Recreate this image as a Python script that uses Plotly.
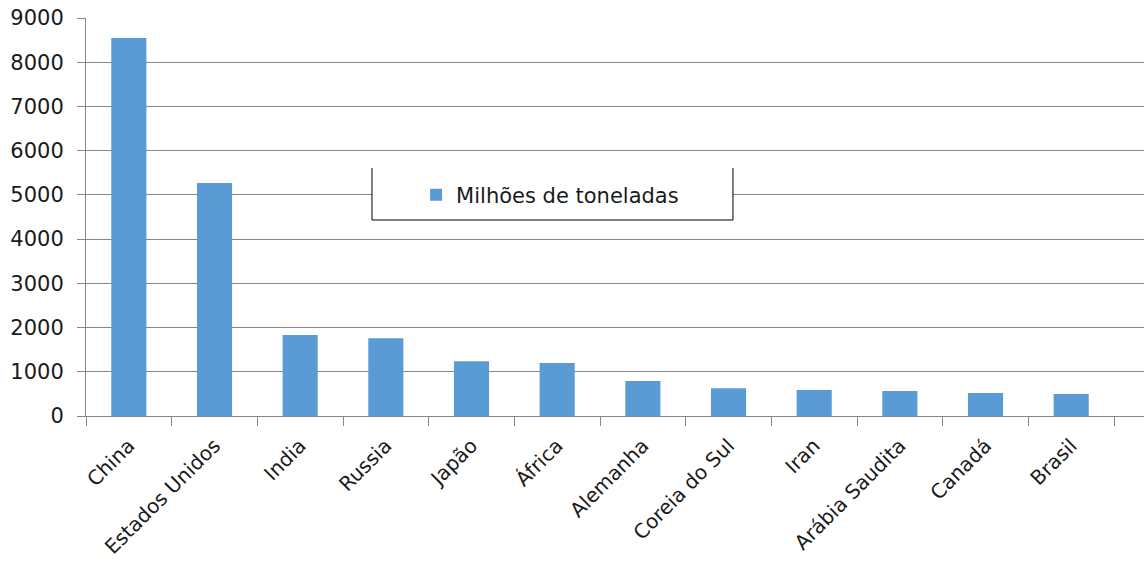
import plotly.graph_objects as go

# Emissões por país (milhões de toneladas)
paises = ["China", "Estados Unidos", "India", "Russia", "Japão", "África",
          "Alemanha", "Coreia do Sul", "Iran", "Arábia Saudita", "Canadá", "Brasil"]
valores = [8550, 5270, 1830, 1760, 1240, 1200, 790, 630, 590, 565, 520, 500]
y_ticks = [0, 1000, 2000, 3000, 4000, 5000, 6000, 7000, 8000, 9000]

serie_nome = "Milhões de toneladas"
azul = "#5b9bd5"
cinza = "#868686"
fonte = "DejaVu Sans"
cor_texto = "#1a1a1a"

fig = go.Figure()
fig.add_trace(go.Bar(x=paises, y=valores, name=serie_nome,
                     marker=dict(color=azul, line=dict(width=0))))

fig.update_layout(
    width=1144, height=562,
    margin=dict(l=86, r=0, t=18, b=146),
    plot_bgcolor="white", paper_bgcolor="white",
    bargap=0.59,
    showlegend=True,
    font=dict(family=fonte, size=20, color=cor_texto),
    legend=dict(x=0.312, xanchor="left", y=0.555, yanchor="middle",
                bgcolor="rgba(0,0,0,0)", borderwidth=0,
                font=dict(family=fonte, size=21, color=cor_texto)),
    shapes=[
        # fundo branco da caixa da legenda
        dict(type="rect", xref="paper", yref="paper",
             x0=0.2703, x1=0.6115, y0=0.4925, y1=0.6231,
             fillcolor="white", line=dict(width=0), layer="above"),
        # contorno da caixa (esquerda, base, direita)
        dict(type="path", xref="paper", yref="paper",
             path="M 0.2703 0.6231 L 0.2703 0.4925 L 0.6115 0.4925 L 0.6115 0.6231",
             line=dict(color="black", width=1), layer="above"),
    ],
)

fig.update_xaxes(
    type="category", range=[-0.5, 11.85],
    showgrid=False, showline=True, linecolor=cinza, linewidth=1,
    ticks="outside", tickson="boundaries", ticklen=9, tickcolor=cinza,
    ticklabelstandoff=9,
    tickangle=-45, tickfont=dict(family=fonte, size=20, color=cor_texto),
)
fig.update_yaxes(
    range=[0, 9000], tickvals=y_ticks,
    showgrid=True, gridcolor=cinza, gridwidth=1,
    showline=True, linecolor=cinza, linewidth=1,
    ticks="outside", ticklen=8, tickcolor=cinza, ticklabelstandoff=9,
    zeroline=False,
    tickfont=dict(family=fonte, size=21, color=cor_texto),
)

fig.write_html("out.html")
